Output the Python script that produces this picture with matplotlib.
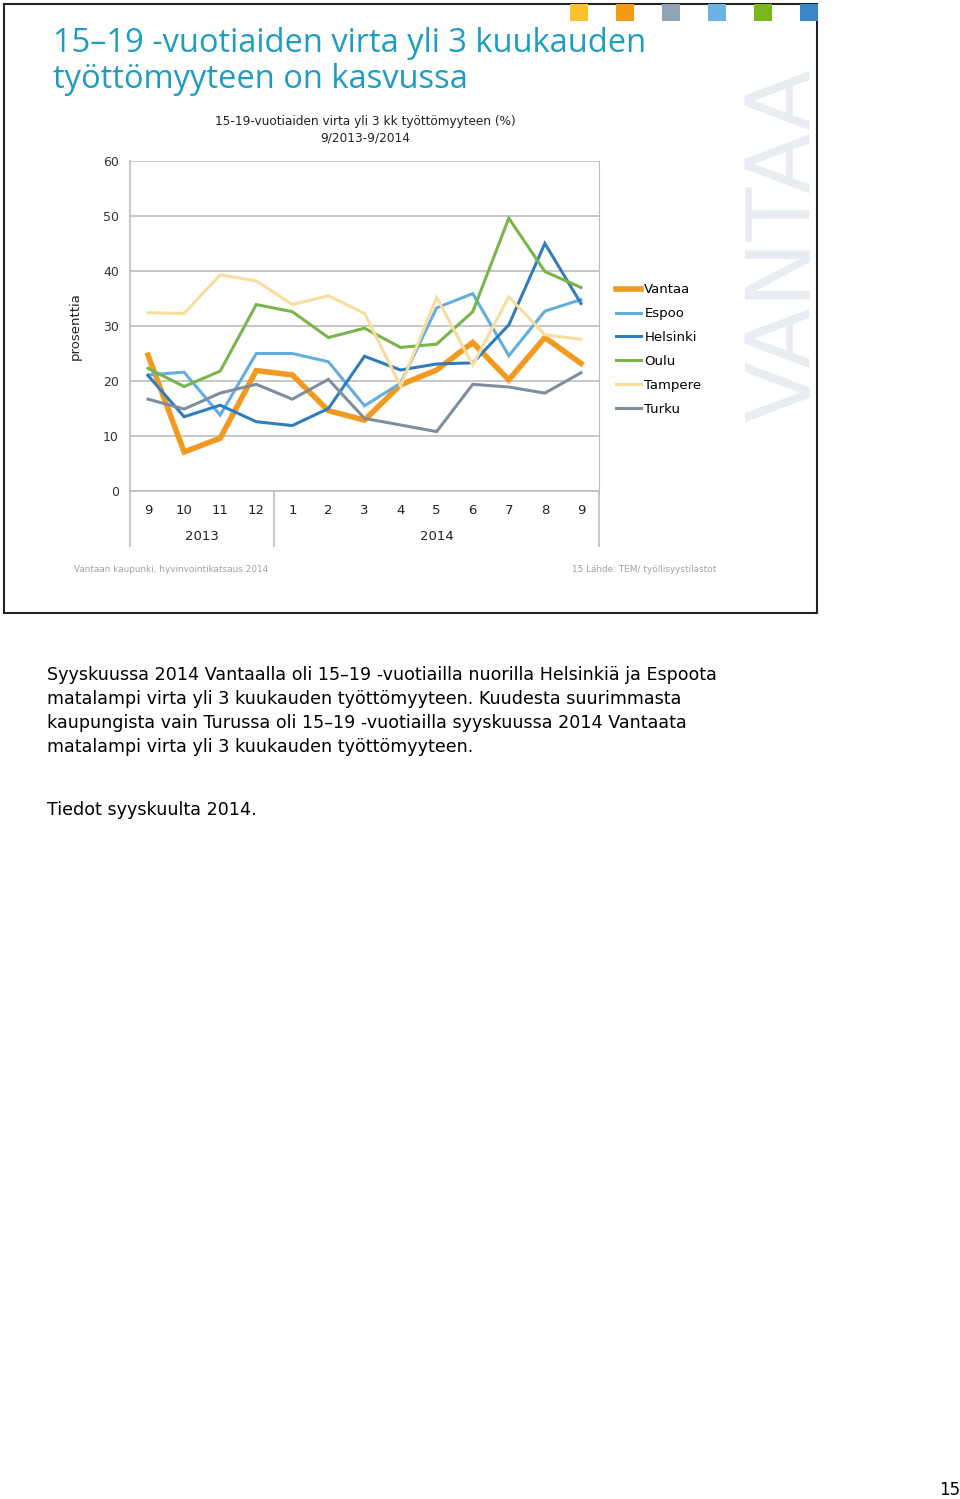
import matplotlib
matplotlib.use('Agg')
import matplotlib.pyplot as plt
from matplotlib.patches import Rectangle
from matplotlib.lines import Line2D

W, H = 960, 1499

months = ['9', '10', '11', '12', '1', '2', '3', '4', '5', '6', '7', '8', '9']
years = ['2013', '2014']
cities = ['Vantaa', 'Espoo', 'Helsinki', 'Oulu', 'Tampere', 'Turku']

vantaa = [24.7, 7.1, 9.6, 21.9, 21.1, 14.6, 12.9, 19.3, 22.0, 27.0, 20.2, 27.9, 23.2]
espoo = [21.1, 21.6, 13.8, 25.0, 25.0, 23.5, 15.5, 19.6, 33.3, 35.9, 24.6, 32.7, 34.8]
helsinki = [21.0, 13.5, 15.6, 12.6, 11.9, 15.0, 24.5, 22.0, 23.1, 23.3, 30.2, 45.0, 34.1]
oulu = [22.3, 19.0, 21.8, 33.9, 32.6, 27.9, 29.6, 26.1, 26.7, 32.6, 49.6, 39.9, 37.0]
tampere = [32.4, 32.3, 39.3, 38.2, 33.9, 35.5, 32.3, 19.1, 35.2, 22.9, 35.3, 28.4, 27.6]
turku = [16.7, 14.9, 17.8, 19.4, 16.7, 20.3, 13.2, 12.0, 10.8, 19.4, 18.9, 17.8, 21.5]

series = [vantaa, espoo, helsinki, oulu, tampere, turku]
colors = ['#F29A1F', '#63AEDD', '#2F7DBD', '#79B54A', '#F8DD9C', '#7F8E9E']
widths = [4.0, 2.2, 2.2, 2.2, 2.2, 2.2]

corner_colors = ['#FBC12E', '#F39A16', '#8FA2B6', '#6DB3E2', '#7AB61E', '#3B86C8']


def fx(x):
    return x / W


def fy(y):
    return 1 - y / H


fig = plt.figure(figsize=(W / 100, H / 100), dpi=100)

# slide frame
frame = Rectangle((fx(4), fy(613)), fx(813), 609 / H, transform=fig.transFigure,
                  fill=False, edgecolor='#222222', linewidth=1.5)
fig.patches.append(frame)

# coloured squares on top
for i, c in enumerate(corner_colors):
    x0 = 570 + i * 46
    fig.patches.append(Rectangle((fx(x0), fy(21)), fx(18), 17 / H, transform=fig.transFigure,
                                 facecolor=c, edgecolor='none'))

# watermark
wm = fig.text(fx(786), fy(245), 'VANTAA', rotation=90, ha='center', va='center',
              fontsize=64, color='#E9EDF2', family='DejaVu Sans')

# slide title
fig.text(fx(53), fy(43), '15–19 -vuotiaiden virta yli 3 kuukauden', ha='left', va='center',
         fontsize=23.5, color='#1E9CC2', family='Open Sans')
fig.text(fx(53), fy(80), 'työttömyyteen on kasvussa', ha='left', va='center',
         fontsize=23.5, color='#1E9CC2', family='Open Sans')

# chart title
fig.text(fx(365), fy(122), '15-19-vuotiaiden virta yli 3 kk työttömyyteen (%)', ha='center', va='center',
         fontsize=8.7, color='#222222', family='DejaVu Sans')
fig.text(fx(365), fy(138), '9/2013-9/2014', ha='center', va='center',
         fontsize=8.7, color='#222222', family='DejaVu Sans')

ax = fig.add_axes([fx(130), fy(491), fx(469), 330 / H])
x = list(range(len(months)))
for s, c, lw, name in zip(series, colors, widths, cities):
    ax.plot(x, s, color=c, linewidth=lw, label=name, solid_joinstyle='miter')

ax.set_xlim(-0.5, 12.5)
ax.set_ylim(0, 60)
ax.set_yticks([0, 10, 20, 30, 40, 50, 60])
ax.yaxis.grid(True, color='#BDBDBD', linewidth=1.2)
ax.set_axisbelow(True)
for side in ['top', 'left']:
    ax.spines[side].set_visible(False)
ax.spines['right'].set_color('#BDBDBD')
ax.spines['bottom'].set_color('#BDBDBD')
ax.spines['bottom'].set_linewidth(1.2)
ax.tick_params(axis='y', length=0, pad=8, labelsize=9, labelcolor='#333333')
ax.set_xticks(x)
ax.set_xticklabels(months)
ax.tick_params(axis='x', length=0, pad=9, labelsize=9.5, labelcolor='#222222')
ax.set_ylabel('prosenttia', fontsize=9.5, color='#222222', labelpad=15)

# category group separators and year labels
sep_kw = dict(color='#BDBDBD', linewidth=1.2, transform=fig.transFigure)
for px in [130, 274, 599]:
    fig.lines.append(Line2D([fx(px), fx(px)], [fy(491), fy(546)], **sep_kw))
fig.lines.append(Line2D([fx(130), fx(130)], [fy(161), fy(491)], **sep_kw))
ax.text(1.5, -8.2, years[0], ha='center', va='center', fontsize=9.5, color='#222222')
ax.text(8.0, -8.2, years[1], ha='center', va='center', fontsize=9.5, color='#222222')

leg = ax.legend(loc='upper left', bbox_to_anchor=(1.025, 0.645), frameon=False, fontsize=9.5,
                handlelength=1.9, handletextpad=0.25, labelspacing=0.82, borderaxespad=0)

# footer
fig.text(fx(74), fy(570), 'Vantaan kaupunki, hyvinvointikatsaus 2014', ha='left', va='center',
         fontsize=6.4, color='#A0A0A0')
fig.text(fx(716), fy(570), '15 Lähde: TEM/ työllisyystilastot', ha='right', va='center',
         fontsize=6.4, color='#A0A0A0')

# body text
body = ['Syyskuussa 2014 Vantaalla oli 15–19 -vuotiailla nuorilla Helsinkiä ja Espoota',
        'matalampi virta yli 3 kuukauden työttömyyteen. Kuudesta suurimmasta',
        'kaupungista vain Turussa oli 15–19 -vuotiailla syyskuussa 2014 Vantaata',
        'matalampi virta yli 3 kuukauden työttömyyteen.']
for i, line in enumerate(body):
    fig.text(fx(47), fy(675 + i * 24), line, ha='left', va='center', fontsize=12.6,
             color='#000000', family='DejaVu Sans')
fig.text(fx(47), fy(810), 'Tiedot syyskuulta 2014.', ha='left', va='center', fontsize=12.6,
         color='#000000', family='DejaVu Sans')
fig.text(fx(960), fy(1490), '15', ha='right', va='center', fontsize=12, color='#000000',
         family='DejaVu Sans')

plt.savefig('out.png', format='png', dpi=100)
